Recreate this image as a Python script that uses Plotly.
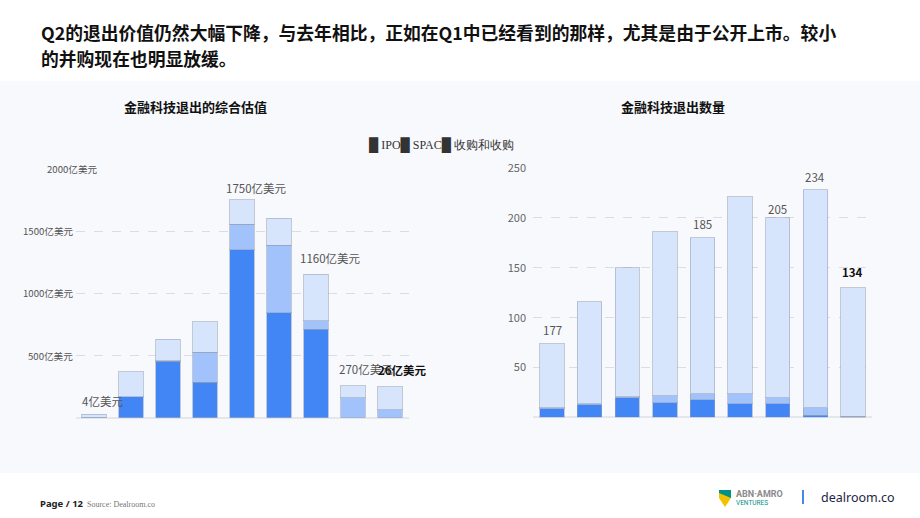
import plotly.graph_objects as go

# ---------------- data ----------------
periods = ["P1", "P2", "P3", "P4", "P5", "P6", "P7", "P8", "P9"]

# 综合估值 (亿美元)
value_ipo = [0, 167, 453, 284, 1350, 845, 712, 0, 0]
value_spac = [2, 2, 5, 243, 206, 540, 69, 159, 63]
value_ma = [24, 200, 173, 244, 197, 219, 371, 96, 184]

# 退出数量
count_ipo = [9, 13, 20, 15, 18, 14, 14, 2, 0]
count_spac = [1, 1, 1, 7, 6, 10, 6, 8, 1]
count_ma = [64, 102, 129, 164, 156, 197, 180, 218, 129]

left_ticks = [500, 1000, 1500, 2000]
left_tick_text = ["500亿美元", "1000亿美元", "1500亿美元", "2000亿美元"]
right_ticks = [50, 100, 150, 200, 250]

# value labels: (category index offset, y, text, bold)
left_labels = [(0.24, 132, "4亿美元", False), (4.4, 1847, "1750亿美元", False),
               (6.38, 1286, "1160亿美元", False), (7.34, 389, "270亿美元", False),
               (8.34, 381, "26亿美元", True)]
right_labels = [(0, 88, "177", False), (4, 194, "185", False), (6, 209, "205", False),
                (7, 241, "234", False), (8, 146, "134", True)]

series_names = ["IPO", "SPAC", "收购和收购"]
colors = ["#4285F4", "#A1C2FA", "#D6E4FC"]

FONT = "Noto Sans CJK SC"
W, H = 920, 518
TOP_OFF, EFF_H = 8, 510  # page offset observed in the viewer

fig = go.Figure()
idx = list(range(len(periods)))
outline = dict(color="rgba(150,160,180,0.55)", width=1)
for name, vals, c in zip(series_names, [value_ipo, value_spac, value_ma], colors):
    fig.add_trace(go.Bar(x=idx, y=vals, name=name, marker=dict(color=c, line=outline),
                         xaxis="x", yaxis="y", showlegend=False, hoverinfo="y"))
for name, vals, c in zip(series_names, [count_ipo, count_spac, count_ma], colors):
    fig.add_trace(go.Bar(x=idx, y=vals, name=name, marker=dict(color=c, line=outline),
                         xaxis="x2", yaxis="y2", showlegend=False, hoverinfo="y"))

def px_x(p):
    return p / W

def px_y(p):
    return 1 - (p - TOP_OFF) / EFF_H

grid = dict(showgrid=True, gridcolor="#DADDE3", griddash="dash", gridwidth=1)
fig.update_layout(
    width=W, height=H,
    margin=dict(l=0, r=0, t=0, b=0),
    paper_bgcolor="white", plot_bgcolor="rgba(0,0,0,0)",
    barmode="stack", bargap=0.35,
    font=dict(family=FONT, color="#555"),
    xaxis=dict(domain=[px_x(75.5), px_x(408.5)], range=[-0.5, 8.5], showticklabels=False,
               showgrid=False, zeroline=False, showline=False, fixedrange=True),
    yaxis=dict(domain=[px_y(417.5), px_y(168.3)], range=[0, 2000], tickvals=left_ticks,
               showticklabels=False, zeroline=True, zerolinecolor="#E6E7EA", zerolinewidth=2,
               anchor="x", **grid),
    xaxis2=dict(domain=[px_x(533.2), px_x(871.8)], range=[-0.5, 8.5], showticklabels=False,
                showgrid=False, zeroline=False, showline=False, anchor="y2"),
    yaxis2=dict(domain=[px_y(417.3), px_y(167.3)], range=[0, 250], tickvals=right_ticks,
                ticktext=[str(t) for t in right_ticks], tickfont=dict(size=11, color="#666"),
                ticks="outside", ticklen=4, tickcolor="rgba(0,0,0,0)",
                zeroline=True, zerolinecolor="#E6E7EA", zerolinewidth=2,
                anchor="x2", **grid),
)

PANEL = "#F8F9FD"
shapes = [dict(type="rect", xref="paper", yref="paper", x0=0, x1=1, y0=px_y(473), y1=px_y(80),
               fillcolor=PANEL, line=dict(width=0), layer="below")]
# ABN AMRO shield
shapes.append(dict(type="path", xref="paper", yref="paper",
                   path=f"M {px_x(719)} {px_y(490)} L {px_x(731)} {px_y(490)} L {px_x(731)} {px_y(498)} L {px_x(725)} {px_y(507)} L {px_x(719)} {px_y(498)} Z",
                   fillcolor="#F2C200", line=dict(width=0)))
shapes.append(dict(type="path", xref="paper", yref="paper",
                   path=f"M {px_x(719)} {px_y(490)} L {px_x(731)} {px_y(490)} L {px_x(731)} {px_y(498)} L {px_x(719)} {px_y(493)} Z",
                   fillcolor="#009286", line=dict(width=0)))
shapes.append(dict(type="line", xref="paper", yref="paper", x0=px_x(803), x1=px_x(803),
                   y0=px_y(490), y1=px_y(504), line=dict(color="#4A86E8", width=2)))
fig.update_layout(shapes=shapes)

ann = []
# headline
ann.append(dict(xref="paper", yref="paper", x=px_x(39), y=px_y(31), xanchor="left", yanchor="middle",
                text="<b>Q2的退出价值仍然大幅下降，与去年相比，正如在Q1中已经看到的那样，尤其是由于公开上市。较小</b>",
                showarrow=False, font=dict(size=17.8, color="#111", family=FONT)))
ann.append(dict(xref="paper", yref="paper", x=px_x(39), y=px_y(57), xanchor="left", yanchor="middle",
                text="<b>的并购现在也明显放缓。</b>",
                showarrow=False, font=dict(size=17.8, color="#111", family=FONT)))
# chart titles
ann.append(dict(xref="paper", yref="paper", x=px_x(195), y=px_y(106), xanchor="center", yanchor="middle",
                text="<b>金融科技退出的综合估值</b>", showarrow=False, font=dict(size=13, color="#111")))
ann.append(dict(xref="paper", yref="paper", x=px_x(673), y=px_y(106), xanchor="center", yanchor="middle",
                text="<b>金融科技退出数量</b>", showarrow=False, font=dict(size=13, color="#111")))
# legend
ann.append(dict(xref="paper", yref="paper", x=px_x(367), y=px_y(144), xanchor="left", yanchor="middle",
                text="<span style='font-size:13px'>█</span> IPO<span style='font-size:13px'>█</span> SPAC<span style='font-size:13px'>█</span> 收购和收购",
                showarrow=False, font=dict(size=12, color="#333", family="Liberation Serif")))
# left y tick labels
for t, txt in zip(left_ticks, left_tick_text):
    xr = 98 if t == 2000 else 74
    ann.append(dict(xref="paper", yref="y", x=px_x(xr), y=t, xanchor="right", yanchor="middle",
                    text=txt, showarrow=False, bgcolor=PANEL, borderpad=0,
                    font=dict(size=9.6, color="#555")))
# value labels
for xi, yv, txt, bold in left_labels:
    ann.append(dict(xref="x", yref="y", x=xi, y=yv, xanchor="center", yanchor="middle",
                    text=f"<b>{txt}</b>" if bold else txt, showarrow=False,
                    font=dict(size=11.5, color="#111" if bold else "#555")))
for xi, yv, txt, bold in right_labels:
    ann.append(dict(xref="x2", yref="y2", x=xi, y=yv, xanchor="center", yanchor="middle",
                    text=f"<b>{txt}</b>" if bold else txt, showarrow=False,
                    font=dict(size=11.5, color="#111" if bold else "#555")))
# footer
ann.append(dict(xref="paper", yref="paper", x=px_x(38), y=px_y(503), xanchor="left", yanchor="middle",
                text="<b>Page / 12</b>", showarrow=False, font=dict(size=9.5, color="#222", family="Noto Sans")))
ann.append(dict(xref="paper", yref="paper", x=px_x(85), y=px_y(504), xanchor="left", yanchor="middle",
                text="Source: Dealroom.co", showarrow=False, font=dict(size=8, color="#777", family="Liberation Serif")))
ann.append(dict(xref="paper", yref="paper", x=px_x(734), y=px_y(494), xanchor="left", yanchor="middle",
                text="<b>ABN·AMRO</b>", showarrow=False, font=dict(size=9, color="#8A8A8A", family="Roboto")))
ann.append(dict(xref="paper", yref="paper", x=px_x(734), y=px_y(503), xanchor="left", yanchor="middle",
                text="VENTURES", showarrow=False, font=dict(size=6.5, color="#009286", family="Roboto")))
ann.append(dict(xref="paper", yref="paper", x=px_x(819), y=px_y(497), xanchor="left", yanchor="middle",
                text="dealroom.co", showarrow=False, font=dict(size=12.5, color="#1B2544", family="Noto Sans")))
fig.update_layout(annotations=ann)

js = ("document.body.style.margin='0';document.body.style.padding='0';"
      "document.documentElement.style.overflow='hidden';document.body.style.overflow='hidden';"
      "var gd=document.getElementById('{plot_id}');gd.style.position='absolute';"
      "gd.style.top='0px';gd.style.left='0px';")
fig.write_html("out.html", config={"displayModeBar": False}, post_script=js)
